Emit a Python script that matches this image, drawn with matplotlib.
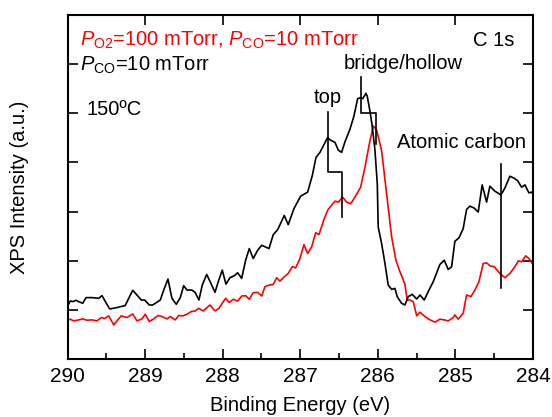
import matplotlib
matplotlib.use("Agg")
import matplotlib.pyplot as plt
from matplotlib.ticker import MultipleLocator

plt.rcParams['font.family'] = ['Liberation Sans', 'DejaVu Sans']
plt.rcParams['mathtext.fontset'] = 'custom'
plt.rcParams['mathtext.rm'] = 'Liberation Sans'
plt.rcParams['mathtext.it'] = 'Liberation Sans:italic'
plt.rcParams['mathtext.bf'] = 'Liberation Sans:bold'

# Black curve: P_CO = 10 mTorr
be_black = [290.000, 289.964, 289.929, 289.891, 289.851, 289.804, 289.761, 289.684, 289.597, 289.555,
            289.512, 289.456, 289.362, 289.256, 289.211, 289.159, 289.105, 289.049, 289.005, 288.946,
            288.903, 288.804, 288.760, 288.705, 288.654, 288.598, 288.546, 288.503, 288.460, 288.396,
            288.353, 288.306, 288.263, 288.206, 288.151, 288.099, 288.057, 288.005, 287.958, 287.906,
            287.850, 287.807, 287.755, 287.704, 287.657, 287.606, 287.549, 287.497, 287.403, 287.348,
            287.291, 287.206, 287.155, 287.082, 286.995, 286.905, 286.845, 286.797, 286.746, 286.647,
            286.617, 286.552, 286.510, 286.467, 286.424, 286.359, 286.308, 286.260, 286.222, 286.195,
            286.153, 286.137, 286.101, 286.076, 286.038, 286.007, 285.995, 285.951, 285.908, 285.866,
            285.822, 285.780, 285.750, 285.694, 285.651, 285.608, 285.557, 285.499, 285.457, 285.402,
            285.351, 285.286, 285.200, 285.144, 285.093, 285.049, 285.007, 284.955, 284.900, 284.856,
            284.814, 284.758, 284.706, 284.655, 284.598, 284.556, 284.491, 284.414, 284.363, 284.298,
            284.242, 284.199, 284.147, 284.104, 284.053, 284.018, 284.000]
int_black = [1.073, 1.180, 1.168, 1.194, 1.164, 1.134, 1.249, 1.249, 1.235, 1.289,
             1.168, 1.018, 1.047, 1.087, 1.235, 1.397, 1.302, 1.200, 1.200, 1.099,
             1.099, 1.200, 1.403, 1.626, 1.235, 1.113, 1.249, 1.492, 1.403, 1.403,
             1.350, 1.200, 1.504, 1.721, 1.538, 1.356, 1.573, 1.808, 1.524, 1.654,
             1.694, 1.755, 1.640, 2.010, 2.247, 2.045, 2.213, 2.314, 2.247, 2.530,
             2.632, 2.921, 2.733, 3.057, 3.314, 3.395, 3.731, 4.103, 4.204, 4.508,
             4.460, 4.407, 4.251, 4.204, 4.419, 4.676, 4.945, 5.298, 5.318, 5.298,
             5.405, 5.350, 5.040, 4.777, 4.271, 3.563, 2.686, 2.348, 1.943, 1.504,
             1.417, 1.437, 1.269, 1.134, 1.099, 1.269, 1.316, 1.221, 1.302, 1.200,
             1.370, 1.573, 1.923, 2.010, 1.822, 1.877, 2.395, 2.464, 2.652, 3.043,
             3.111, 3.071, 2.990, 3.543, 3.192, 3.516, 3.415, 3.340, 3.476, 3.719,
             3.678, 3.630, 3.496, 3.543, 3.381, 3.395, 3.360]

# Red curve: P_O2 = 100 mTorr, P_CO = 10 mTorr
be_red = [290.000, 289.964, 289.920, 289.855, 289.804, 289.748, 289.684, 289.620, 289.564, 289.521,
          289.469, 289.404, 289.362, 289.307, 289.233, 289.159, 289.105, 289.040, 288.998, 288.946,
          288.889, 288.834, 288.782, 288.717, 288.675, 288.611, 288.567, 288.515, 288.460, 288.405,
          288.353, 288.310, 288.275, 288.250, 288.164, 288.099, 288.048, 287.962, 287.915, 287.864,
          287.807, 287.755, 287.704, 287.657, 287.606, 287.549, 287.497, 287.455, 287.403, 287.348,
          287.304, 287.262, 287.206, 287.155, 287.103, 287.059, 287.004, 286.952, 286.905, 286.853,
          286.801, 286.759, 286.691, 286.643, 286.552, 286.510, 286.453, 286.402, 286.350, 286.295,
          286.222, 286.166, 286.110, 286.059, 286.015, 285.951, 285.887, 285.822, 285.767, 285.715,
          285.672, 285.651, 285.621, 285.587, 285.544, 285.499, 285.457, 285.393, 285.328, 285.264,
          285.200, 285.144, 285.093, 285.028, 285.007, 284.964, 284.900, 284.856, 284.800, 284.749,
          284.697, 284.642, 284.598, 284.556, 284.500, 284.426, 284.363, 284.298, 284.233, 284.190,
          284.147, 284.095, 284.053, 284.000]
int_red = [0.789, 0.810, 0.775, 0.796, 0.816, 0.789, 0.796, 0.775, 0.844, 0.824,
           0.877, 0.694, 0.775, 0.877, 0.844, 0.917, 0.775, 0.816, 0.911, 0.763,
           0.816, 0.885, 0.864, 0.816, 0.864, 0.796, 0.885, 0.877, 0.911, 0.966,
           0.978, 1.032, 0.998, 0.978, 1.099, 0.978, 1.032, 1.235, 1.148, 1.215,
           1.180, 1.281, 1.289, 1.215, 1.350, 1.356, 1.281, 1.472, 1.504, 1.518,
           1.654, 1.585, 1.674, 1.741, 1.877, 1.856, 2.045, 2.328, 2.146, 2.281,
           2.571, 2.530, 2.854, 3.036, 3.213, 3.192, 3.293, 3.192, 3.158, 3.293,
           3.496, 3.901, 4.372, 4.743, 4.656, 4.237, 3.360, 2.484, 2.010, 1.775,
           1.605, 1.518, 1.200, 1.200, 1.168, 0.881, 0.951, 0.864, 0.796, 0.749,
           0.810, 0.796, 0.775, 0.844, 0.897, 0.810, 0.931, 1.302, 1.269, 1.403,
           1.573, 1.943, 1.957, 1.897, 1.877, 1.741, 1.654, 1.741, 1.877, 1.998,
           1.978, 2.099, 2.045, 1.923]

# Peak marker lines
top_x = [286.639, 286.639, 286.459, 286.459]
top_y = [5.026, 3.805, 3.805, 2.890]
bridge_x = [286.222, 286.222, 286.024, 286.024]
bridge_y = [5.739, 5.006, 5.006, 4.375]
atomic_x = [284.414, 284.414]
atomic_y = [3.968, 1.445]

xticks = [290, 289, 288, 287, 286, 285, 284]

fig = plt.figure(figsize=(5.52, 4.17), dpi=100)
ax = fig.add_axes([67.5/552, 1-359/417, 465.5/552, 344/417])

ax.plot(be_red, int_red, color='#ff0000', lw=1.2)
ax.plot(be_black, int_black, color='black', lw=1.2)

for xs, ys in [(top_x, top_y), (bridge_x, bridge_y), (atomic_x, atomic_y)]:
    ax.plot(xs, ys, color='black', lw=1.2)

ax.set_xlim(290, 284)
ax.set_ylim(0, 7)
ax.set_xticks(xticks)
ax.set_xticklabels([str(t) for t in xticks])
ax.xaxis.set_minor_locator(MultipleLocator(0.5))
ax.yaxis.set_major_locator(MultipleLocator(1))
ax.set_yticklabels([])
ax.tick_params(axis='both', which='major', direction='in', length=7, width=1.2,
               top=True, right=True, labelsize=15, pad=6)
ax.tick_params(axis='x', which='minor', direction='in', length=4, width=1.2,
               top=False, bottom=True)
for s in ax.spines.values():
    s.set_linewidth(1.5)

ax.set_xlabel('Binding Energy (eV)', fontsize=14.5, labelpad=7)
ax.set_ylabel('XPS Intensity (a.u.)', fontsize=14.5, labelpad=22)

fs = 14.5
ax.text(0.027, 0.927, r'$\mathit{P}_{\mathrm{O2}}$=100 mTorr, $\mathit{P}_{\mathrm{CO}}$=10 mTorr',
        transform=ax.transAxes, color='#ff0000', fontsize=fs, va='center', ha='left')
ax.text(0.027, 0.855, r'$\mathit{P}_{\mathrm{CO}}$=10 mTorr',
        transform=ax.transAxes, color='black', fontsize=fs, va='center', ha='left')
ax.text(0.041, 0.724, '150ºC', transform=ax.transAxes, fontsize=fs, va='center', ha='left')
ax.text(0.961, 0.927, 'C 1s', transform=ax.transAxes, fontsize=fs, va='center', ha='right')
ax.text(286.65, 5.33, 'top', fontsize=fs, ha='center', va='center')
ax.text(285.677, 6.02, 'bridge/hollow', fontsize=fs, ha='center', va='center')
ax.text(284.916, 4.40, 'Atomic carbon', fontsize=fs, ha='center', va='center')

fig.savefig('out.png', dpi=100)
